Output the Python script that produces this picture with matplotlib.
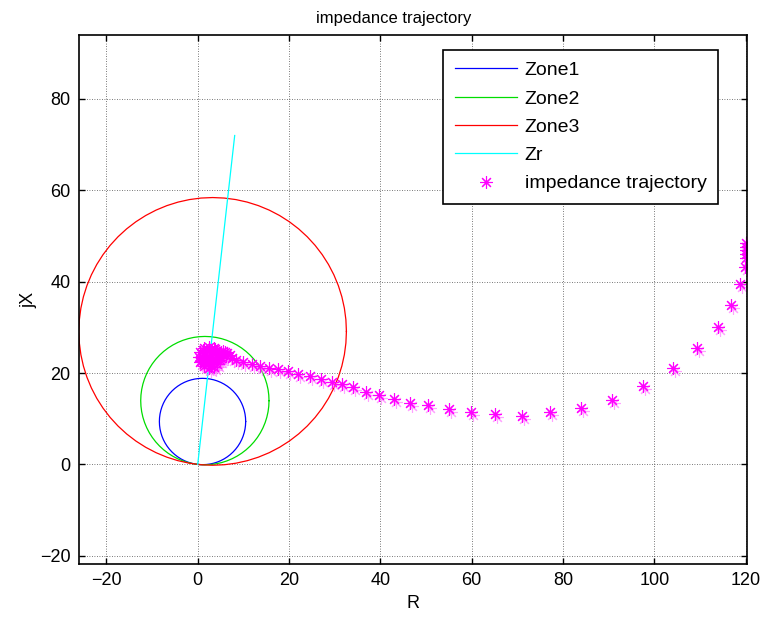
import numpy as np
import matplotlib
matplotlib.use("Agg")
import matplotlib.pyplot as plt
import matplotlib.transforms as mtransforms

plt.rcParams['font.family'] = ['Liberation Sans', 'DejaVu Sans']

# Relay settings: mho circle diameters (ohm) and characteristic angle
zone_names = ["Zone1", "Zone2", "Zone3"]
zone_diameters = [18.9, 28.1, 58.6]
zone_colors = ["#0000ff", "#00dd00", "#ff0000"]
relay_angle_deg = 83.6

# Line impedance vector Zr (end point)
zr_end = (8.1, 72.0)

# Measured apparent impedance trajectory (R, X)
traj_R = [120.1, 120.1, 120.0, 120.1, 120.0, 119.8, 118.7, 116.9, 113.9, 109.3,
          104.0, 97.5, 90.7, 84.0, 77.1, 71.1, 65.0, 59.9, 55.0, 50.4,
          46.4, 43.0, 39.8, 36.9, 34.0, 31.5, 29.5, 27.1, 24.5, 22.0,
          19.8, 17.6, 15.6, 13.6, 11.8, 9.9, 8.3, 7.6, 7.0, 6.5,
          6.0, 5.5, 5.0, 4.6, 4.3, 3.5, 2.4, 1.3, 0.5, 0.2,
          0.5, 1.3, 2.4, 3.5, 4.3, 4.8, 3.9, 3.3, 2.4, 1.5,
          1.0, 1.5, 2.4, 3.3, 2.4, 2.8, 2.0, 3.0, 1.8, 4.0,
          5.2, 0.8, 1.2, 2.9, 3.8, 6.3, 5.6]
traj_X = [48.5, 47.7, 46.9, 46.1, 45.2, 43.2, 39.6, 34.8, 30.0, 25.4,
          21.0, 17.2, 14.2, 12.4, 11.4, 10.7, 11.1, 11.4, 12.1, 12.9,
          13.4, 14.4, 15.1, 15.8, 16.9, 17.7, 18.0, 18.8, 19.3, 19.9,
          20.5, 20.8, 21.1, 21.5, 22.0, 22.4, 22.9, 23.4, 23.9, 24.3,
          24.6, 24.8, 24.7, 23.6, 24.6, 25.4, 25.8, 25.5, 24.6, 23.5,
          22.4, 21.6, 21.2, 21.4, 22.0, 22.8, 23.5, 24.5, 24.9, 24.5,
          23.5, 22.5, 22.2, 22.6, 23.5, 23.2, 23.8, 24.0, 22.9, 24.9,
          23.3, 22.6, 25.0, 21.5, 25.2, 23.8, 24.2]

fig = plt.figure(figsize=(7.64, 6.19), dpi=100)
ax = fig.add_axes([79 / 764, 55 / 619, 668 / 764, 529 / 619])

theta = np.linspace(0, 2 * np.pi, 73)
phi = np.deg2rad(relay_angle_deg)
handles = []
for name, d, c in zip(zone_names, zone_diameters, zone_colors):
    cx, cy = d / 2 * np.cos(phi), d / 2 * np.sin(phi)
    h, = ax.plot(cx + d / 2 * np.cos(theta), cy + d / 2 * np.sin(theta),
                 color=c, lw=0.9, label=name)
    handles.append(h)

h, = ax.plot([0, zr_end[0]], [0, zr_end[1]], color="#00ffff", lw=0.9, label="Zr")
handles.append(h)

# asterisk marker with four strokes
star = (8, 2, 0)
# faint offset copy of the markers (print ghosting)
ghost = mtransforms.offset_copy(ax.transData, fig=fig, x=2, y=-3, units='dots')
ax.plot(traj_R, traj_X, ls='none', marker=star, ms=9, mew=0.8,
        color="#ff66ff", alpha=0.6, transform=ghost)
h, = ax.plot(traj_R, traj_X, ls='none', marker=star, ms=9, mew=0.8,
             color="#ff00ff", label="impedance trajectory")
handles.append(h)

ax.set_xlim(-26.0, 120.3)
ax.set_ylim(-21.8, 94.0)
ax.set_xticks(np.arange(-20, 121, 20))
ax.set_yticks(np.arange(-20, 81, 20))
ax.tick_params(direction='in', length=4, width=1, labelsize=13, top=True, right=True,
               pad=6)
ax.grid(True, color='black', ls=(0, (1, 2)), lw=0.6, alpha=0.7)
for s in ax.spines.values():
    s.set_linewidth(1.2)

ax.set_title("impedance trajectory", fontsize=12, pad=9, x=(394 - 79) / 668)
ax.set_xlabel("R", fontsize=13, labelpad=4)
ax.set_ylabel("jX", fontsize=13, labelpad=2)

leg = ax.legend(handles=handles, loc='upper left',
                bbox_to_anchor=(443 / 764, (619 - 50) / 619),
                bbox_transform=fig.transFigure, fontsize=14, frameon=True,
                fancybox=False, framealpha=1, edgecolor='black',
                handlelength=3.2, labelspacing=0.55, borderpad=0.6,
                handletextpad=0.4, borderaxespad=0)
leg.get_frame().set_linewidth(1.2)

fig.savefig("out.png", dpi=100)
